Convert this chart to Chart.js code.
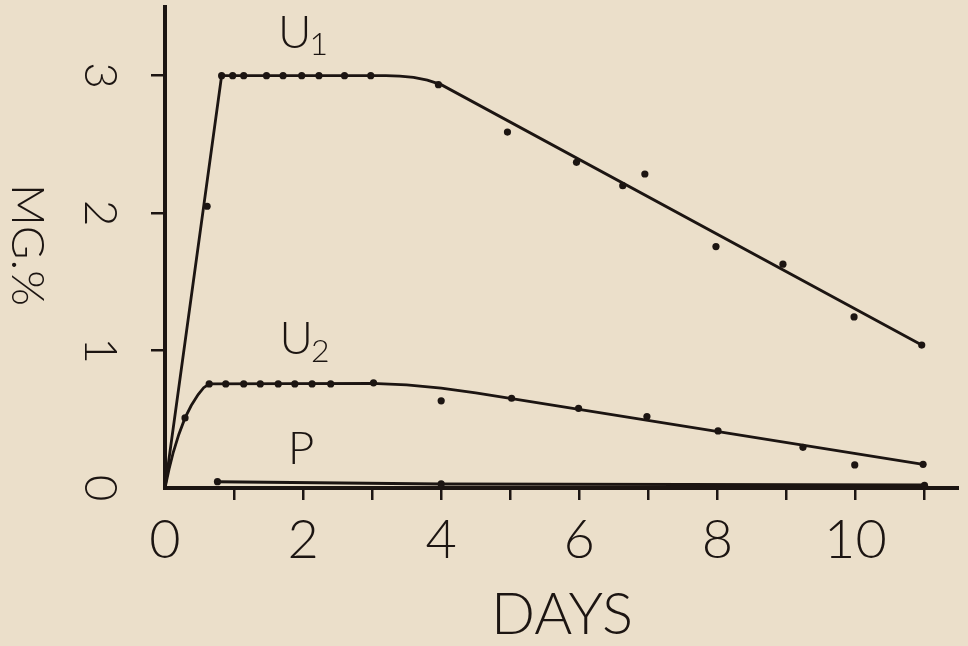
<!DOCTYPE html>
<html>
<head>
<meta charset="utf-8">
<title>MG.% vs DAYS</title>
<script src="https://cdn.jsdelivr.net/npm/chart.js@4.4.1/dist/chart.umd.min.js"></script>
<style>
  html, body { margin: 0; padding: 0; background: #ebdfca; }
  #wrap { width: 968px; height: 646px; }
</style>
</head>
<body>
<div id="wrap"><canvas id="chart" width="968" height="646"></canvas></div>
<script>
// ---- values (days, mg %) ----
const u1Days = [0.61, 0.82, 0.98, 1.14, 1.47, 1.71, 1.98, 2.23, 2.6, 2.98, 3.96, 4.96, 5.96, 6.63, 6.95, 7.98, 8.95, 9.98, 10.96];
const u1Vals = [2.05, 3.0, 3.0, 3.0, 3.0, 3.0, 3.0, 3.0, 3.0, 3.0, 2.935, 2.59, 2.37, 2.2, 2.285, 1.757, 1.629, 1.245, 1.04];

const u2Days = [0.29, 0.64, 0.88, 1.14, 1.38, 1.64, 1.88, 2.13, 2.4, 3.02, 4.0, 5.02, 5.99, 6.98, 8.01, 9.24, 9.99, 10.98];
const u2Vals = [0.51, 0.757, 0.757, 0.757, 0.757, 0.757, 0.757, 0.757, 0.757, 0.765, 0.634, 0.653, 0.58, 0.52, 0.415, 0.296, 0.168, 0.172];

const pDays = [0.76, 4.0, 11.0];
const pVals = [0.046, 0.03, 0.02];

// hand-drawn fitted curves
const u1FitDays = [0, 0.82, 3.2, 3.4, 3.6, 3.8, 4.0, 10.98];
const u1FitVals = [0, 3.0, 3.0, 2.997, 2.988, 2.968, 2.935, 1.035];
const u2FitDays = [0, 0.06, 0.12, 0.2, 0.29, 0.38, 0.48, 0.56, 0.64, 3.0, 3.5, 4.0, 4.5, 5.0, 10.98];
const u2FitVals = [0, 0.14, 0.26, 0.39, 0.51, 0.6, 0.68, 0.73, 0.757, 0.762, 0.75, 0.726, 0.692, 0.653, 0.172];
const pFitDays = [0.76, 4.0, 11.0];
const pFitVals = [0.046, 0.03, 0.022];

// axes
const xTickDays = [0, 1, 2, 3, 4, 5, 6, 7, 8, 9, 10, 11];
const xLabelDays = [0, 2, 4, 6, 8, 10];
const yTickVals = [0, 1, 2, 3];

// curve names: text, subscript, anchor (day, mg %)
const curveNames = [
  { text: 'U', sub: '1', day: 1.88, val: 3.31 },
  { text: 'U', sub: '2', day: 1.90, val: 1.08 },
  { text: 'P', sub: '', day: 1.97, val: 0.28 }
];

const ink = '#1c1512';
const FONT = 'Lato, "Open Sans", sans-serif';

const toXY = (xs, ys) => xs.map((x, i) => ({ x: x, y: ys[i] }));

function fitSet(xs, ys, w) {
  return { data: toXY(xs, ys), showLine: true, borderColor: ink, borderWidth: w, pointRadius: 0, clip: false };
}
function dotSet(xs, ys) {
  return { data: toXY(xs, ys), showLine: false, pointRadius: 3.6, backgroundColor: ink, borderWidth: 0, clip: false };
}

// labels drawn by hand: rotated y ticks, y title, curve names
const handLabels = {
  id: 'handLabels',
  afterDraw(chart) {
    const { ctx, scales: { x, y } } = chart;
    ctx.save();
    ctx.fillStyle = ink;
    ctx.textAlign = 'center';
    ctx.textBaseline = 'middle';

    ctx.font = '300 46px ' + FONT;
    y.ticks.forEach(t => {
      ctx.save();
      ctx.translate(100, y.getPixelForValue(t.value));
      ctx.rotate(Math.PI / 2);
      ctx.fillText(String(t.value), 0, 0);
      ctx.restore();
    });

    ctx.save();
    ctx.translate(27, 245);
    ctx.rotate(Math.PI / 2);
    ctx.font = '300 46px ' + FONT;
    ctx.fillText('MG.%', 0, 0);
    ctx.restore();

    curveNames.forEach(n => {
      const px = x.getPixelForValue(n.day);
      const py = y.getPixelForValue(n.val);
      ctx.font = '300 46px ' + FONT;
      ctx.fillText(n.text, px, py);
      if (n.sub) {
        ctx.font = '300 32px ' + FONT;
        ctx.fillText(n.sub, px + 24, py + 12);
      }
    });
    ctx.restore();
  }
};

const ctx = document.getElementById('chart').getContext('2d');
new Chart(ctx, {
  type: 'scatter',
  data: {
    datasets: [
      fitSet(u1FitDays, u1FitVals, 2.8),
      fitSet(u2FitDays, u2FitVals, 2.8),
      fitSet(pFitDays, pFitVals, 3),
      dotSet(u1Days, u1Vals),
      dotSet(u2Days, u2Vals),
      dotSet(pDays, pVals)
    ]
  },
  options: {
    responsive: false,
    animation: false,
    layout: { padding: { top: 7, right: 9, left: 0, bottom: 0 } },
    plugins: { legend: { display: false }, tooltip: { enabled: false } },
    scales: {
      x: {
        type: 'linear',
        min: 0,
        max: 11.5,
        afterBuildTicks: s => { s.ticks = xTickDays.map(v => ({ value: v })); },
        afterFit: s => { s.height = 158; },
        border: { display: true, color: ink, width: 4 },
        grid: {
          drawOnChartArea: false,
          drawTicks: true,
          tickLength: 12,
          color: ink,
          lineWidth: c => (c.tick && c.tick.value === 0 ? 0 : 2.5)
        },
        ticks: {
          autoSkip: false,
          maxRotation: 0,
          padding: 8,
          color: ink,
          font: { family: FONT, weight: '300', size: 54 },
          callback: v => (xLabelDays.includes(v) ? String(v) : '')
        },
        title: {
          display: true,
          text: 'DAYS',
          color: ink,
          font: { family: FONT, weight: '300', size: 58, lineHeight: 1 },
          padding: { top: 0, bottom: 2 }
        }
      },
      y: {
        type: 'linear',
        min: 0,
        max: 3.5,
        afterBuildTicks: s => { s.ticks = yTickVals.map(v => ({ value: v })); },
        afterFit: s => { s.width = 165; },
        border: { display: true, color: ink, width: 4 },
        grid: {
          drawOnChartArea: false,
          drawTicks: true,
          tickLength: 14,
          color: ink,
          lineWidth: c => (c.tick && c.tick.value === 0 ? 0 : 2.5)
        },
        ticks: { display: false }
      }
    }
  },
  plugins: [handLabels]
});
</script>
</body>
</html>
